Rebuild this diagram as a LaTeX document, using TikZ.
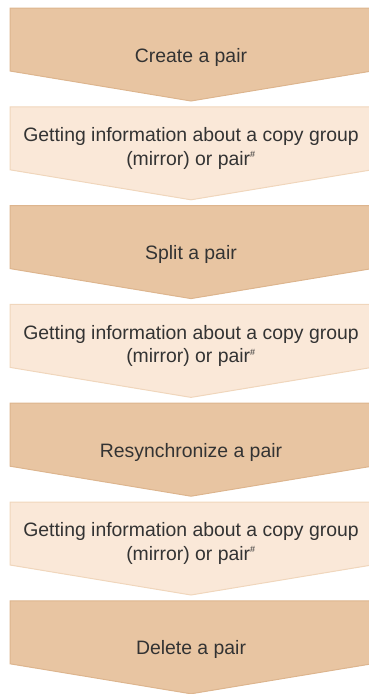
\documentclass[tikz,border=0pt]{standalone}
\usepackage{fontspec}
\setmainfont{Liberation Sans}
\definecolor{darkfill}{HTML}{E8C5A2}
\definecolor{darkline}{HTML}{DDB58E}
\definecolor{lightfill}{HTML}{FAE8D8}
\definecolor{lightline}{HTML}{F0D6BC}
\definecolor{txtcol}{HTML}{333333}
\newcommand\chevpath[1]{(10,#1) -- (372,#1) -- (372,#1+63) -- (191,#1+93) -- (10,#1+63) -- cycle}
\begin{document}
\begin{tikzpicture}[x=1pt,y=-1pt,
  darkchev/.style={fill=darkfill,draw=darkline,line width=1pt,line join=miter},
  lightchev/.style={fill=lightfill,draw=lightline,line width=1pt,line join=miter},
  label1/.style={anchor=base,inner sep=0pt,text=txtcol,font=\fontsize{19.4}{23.5}\selectfont},
  label2/.style={anchor=base,inner sep=0pt,text=txtcol,align=center,font=\fontsize{19.4}{23.5}\selectfont}]
\useasboundingbox (0,0) rectangle (369,694);
\newcommand\hashmark{\textsuperscript{\fontsize{9}{9}\selectfont\#}}
\draw[darkchev] \chevpath{8};
\node[label1] (create) at (191,62) {Create a pair};
\draw[lightchev] \chevpath{106.8};
\node[label2] (info1) at (191,165) {Getting information about a copy group\\(mirror) or pair\hashmark};
\draw[darkchev] \chevpath{205.6};
\node[label1] (split) at (191,259.6) {Split a pair};
\draw[lightchev] \chevpath{304.4};
\node[label2] (info2) at (191,362.6) {Getting information about a copy group\\(mirror) or pair\hashmark};
\draw[darkchev] \chevpath{403.2};
\node[label1] (resync) at (191,457.2) {Resynchronize a pair};
\draw[lightchev] \chevpath{502};
\node[label2] (info3) at (191,560.2) {Getting information about a copy group\\(mirror) or pair\hashmark};
\draw[darkchev] \chevpath{600.8};
\node[label1] (delete) at (191,654.8) {Delete a pair};
\end{tikzpicture}
\end{document}
